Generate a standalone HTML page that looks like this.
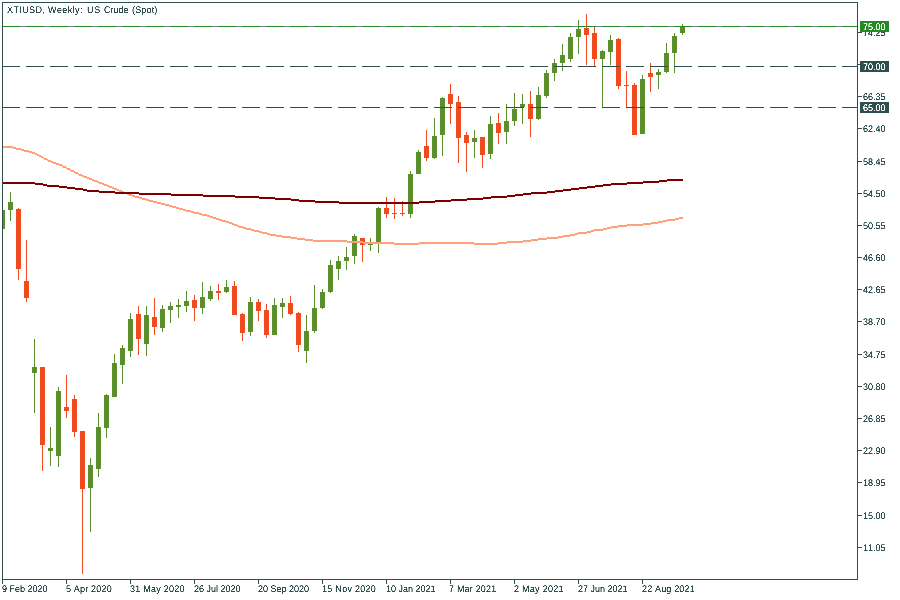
<!DOCTYPE html><html lang="en"><head><meta charset="utf-8"><title>XTIUSD, Weekly: US Crude (Spot)</title>
<style>
html,body{margin:0;padding:0;background:#fff;}
body{width:900px;height:600px;overflow:hidden;position:relative;font-family:"Liberation Sans",sans-serif;font-size:9px;color:#2f4f4f;font-kerning:none;}
svg{position:absolute;left:0;top:0;display:block;}
.t{position:absolute;white-space:pre;line-height:12px;height:14px;font-size:9px;filter:url(#crisp);}
.t span{display:inline-block;transform:matrix(1,0.0005,0,1.07,0,0);transform-origin:0 9px;}
#title{left:6px;top:4px;width:160px;}
#title span{position:absolute;top:0;}
.b{position:absolute;left:860px;width:29px;height:11px;}
.w{color:#fff;}
</style></head><body>
<svg width="900" height="600" viewBox="0 0 900 600" shape-rendering="crispEdges">
<defs><filter id="crisp" x="0" y="0" width="100%" height="100%" color-interpolation-filters="sRGB"><feComponentTransfer><feFuncA type="linear" slope="3" intercept="-0.7"/></feComponentTransfer></filter></defs>
<rect x="3" y="210" width="2" height="19" fill="#5a8f2c"/>
<rect x="10" y="192" width="1" height="29" fill="#5a8f2c"/>
<rect x="8" y="202" width="5" height="8" fill="#5a8f2c"/>
<rect x="18" y="208" width="1" height="72" fill="#f04a1f"/>
<rect x="16" y="209" width="5" height="60" fill="#f04a1f"/>
<rect x="26" y="240" width="1" height="62" fill="#f04a1f"/>
<rect x="24" y="281" width="5" height="17" fill="#f04a1f"/>
<rect x="34" y="339" width="1" height="74" fill="#5a8f2c"/>
<rect x="32" y="367" width="5" height="6" fill="#5a8f2c"/>
<rect x="42" y="367" width="1" height="104" fill="#f04a1f"/>
<rect x="40" y="367" width="5" height="78" fill="#f04a1f"/>
<rect x="50" y="427" width="1" height="39" fill="#5a8f2c"/>
<rect x="48" y="448" width="5" height="3" fill="#5a8f2c"/>
<rect x="58" y="387" width="1" height="80" fill="#5a8f2c"/>
<rect x="56" y="391" width="5" height="65" fill="#5a8f2c"/>
<rect x="66" y="375" width="1" height="43" fill="#f04a1f"/>
<rect x="64" y="407" width="5" height="4" fill="#f04a1f"/>
<rect x="74" y="395" width="1" height="42" fill="#f04a1f"/>
<rect x="72" y="399" width="5" height="33" fill="#f04a1f"/>
<rect x="82" y="431" width="1" height="143" fill="#f04a1f"/>
<rect x="80" y="431" width="5" height="58" fill="#f04a1f"/>
<rect x="90" y="458" width="1" height="74" fill="#5a8f2c"/>
<rect x="88" y="465" width="5" height="23" fill="#5a8f2c"/>
<rect x="98" y="413" width="1" height="64" fill="#5a8f2c"/>
<rect x="96" y="427" width="5" height="42" fill="#5a8f2c"/>
<rect x="106" y="394" width="1" height="44" fill="#5a8f2c"/>
<rect x="104" y="395" width="5" height="33" fill="#5a8f2c"/>
<rect x="114" y="354" width="1" height="43" fill="#5a8f2c"/>
<rect x="112" y="363" width="5" height="34" fill="#5a8f2c"/>
<rect x="122" y="345" width="1" height="39" fill="#5a8f2c"/>
<rect x="120" y="348" width="5" height="17" fill="#5a8f2c"/>
<rect x="130" y="313" width="1" height="44" fill="#5a8f2c"/>
<rect x="128" y="319" width="5" height="32" fill="#5a8f2c"/>
<rect x="138" y="306" width="1" height="49" fill="#f04a1f"/>
<rect x="136" y="314" width="5" height="25" fill="#f04a1f"/>
<rect x="146" y="306" width="1" height="50" fill="#5a8f2c"/>
<rect x="144" y="315" width="5" height="29" fill="#5a8f2c"/>
<rect x="154" y="298" width="1" height="37" fill="#f04a1f"/>
<rect x="152" y="317" width="5" height="10" fill="#f04a1f"/>
<rect x="162" y="305" width="1" height="27" fill="#5a8f2c"/>
<rect x="160" y="309" width="5" height="19" fill="#5a8f2c"/>
<rect x="170" y="302" width="1" height="21" fill="#5a8f2c"/>
<rect x="168" y="306" width="5" height="4" fill="#5a8f2c"/>
<rect x="178" y="299" width="1" height="19" fill="#5a8f2c"/>
<rect x="176" y="305" width="5" height="2" fill="#5a8f2c"/>
<rect x="186" y="291" width="1" height="21" fill="#5a8f2c"/>
<rect x="184" y="301" width="5" height="5" fill="#5a8f2c"/>
<rect x="194" y="295" width="1" height="26" fill="#f04a1f"/>
<rect x="192" y="300" width="5" height="8" fill="#f04a1f"/>
<rect x="202" y="282" width="1" height="32" fill="#5a8f2c"/>
<rect x="200" y="297" width="5" height="11" fill="#5a8f2c"/>
<rect x="210" y="286" width="1" height="15" fill="#5a8f2c"/>
<rect x="208" y="291" width="5" height="8" fill="#5a8f2c"/>
<rect x="218" y="284" width="1" height="16" fill="#f04a1f"/>
<rect x="216" y="291" width="5" height="2" fill="#f04a1f"/>
<rect x="226" y="280" width="1" height="13" fill="#5a8f2c"/>
<rect x="224" y="287" width="5" height="5" fill="#5a8f2c"/>
<rect x="234" y="281" width="1" height="34" fill="#f04a1f"/>
<rect x="232" y="286" width="5" height="29" fill="#f04a1f"/>
<rect x="242" y="313" width="1" height="28" fill="#f04a1f"/>
<rect x="240" y="314" width="5" height="19" fill="#f04a1f"/>
<rect x="250" y="297" width="1" height="39" fill="#5a8f2c"/>
<rect x="248" y="302" width="5" height="30" fill="#5a8f2c"/>
<rect x="258" y="299" width="1" height="22" fill="#f04a1f"/>
<rect x="256" y="302" width="5" height="9" fill="#f04a1f"/>
<rect x="266" y="304" width="1" height="34" fill="#f04a1f"/>
<rect x="264" y="310" width="5" height="25" fill="#f04a1f"/>
<rect x="274" y="298" width="1" height="37" fill="#5a8f2c"/>
<rect x="272" y="305" width="5" height="30" fill="#5a8f2c"/>
<rect x="282" y="298" width="1" height="20" fill="#5a8f2c"/>
<rect x="280" y="303" width="5" height="4" fill="#5a8f2c"/>
<rect x="290" y="296" width="1" height="19" fill="#f04a1f"/>
<rect x="288" y="303" width="5" height="11" fill="#f04a1f"/>
<rect x="298" y="312" width="1" height="40" fill="#f04a1f"/>
<rect x="296" y="313" width="5" height="32" fill="#f04a1f"/>
<rect x="306" y="315" width="1" height="48" fill="#5a8f2c"/>
<rect x="304" y="331" width="5" height="20" fill="#5a8f2c"/>
<rect x="314" y="285" width="1" height="48" fill="#5a8f2c"/>
<rect x="312" y="308" width="5" height="23" fill="#5a8f2c"/>
<rect x="322" y="289" width="1" height="20" fill="#5a8f2c"/>
<rect x="320" y="292" width="5" height="16" fill="#5a8f2c"/>
<rect x="330" y="260" width="1" height="33" fill="#5a8f2c"/>
<rect x="328" y="265" width="5" height="27" fill="#5a8f2c"/>
<rect x="338" y="256" width="1" height="24" fill="#5a8f2c"/>
<rect x="336" y="261" width="5" height="8" fill="#5a8f2c"/>
<rect x="346" y="247" width="1" height="23" fill="#5a8f2c"/>
<rect x="344" y="257" width="5" height="4" fill="#5a8f2c"/>
<rect x="354" y="234" width="1" height="30" fill="#5a8f2c"/>
<rect x="352" y="236" width="5" height="20" fill="#5a8f2c"/>
<rect x="362" y="238" width="1" height="24" fill="#f04a1f"/>
<rect x="360" y="238" width="5" height="7" fill="#f04a1f"/>
<rect x="370" y="238" width="1" height="13" fill="#5a8f2c"/>
<rect x="368" y="244" width="5" height="1" fill="#5a8f2c"/>
<rect x="378" y="207" width="1" height="46" fill="#5a8f2c"/>
<rect x="376" y="208" width="5" height="34" fill="#5a8f2c"/>
<rect x="386" y="197" width="1" height="21" fill="#f04a1f"/>
<rect x="384" y="208" width="5" height="6" fill="#f04a1f"/>
<rect x="394" y="198" width="1" height="21" fill="#f04a1f"/>
<rect x="392" y="213" width="5" height="1" fill="#f04a1f"/>
<rect x="402" y="201" width="1" height="15" fill="#f04a1f"/>
<rect x="400" y="213" width="5" height="1" fill="#f04a1f"/>
<rect x="410" y="171" width="1" height="47" fill="#5a8f2c"/>
<rect x="408" y="174" width="5" height="40" fill="#5a8f2c"/>
<rect x="418" y="150" width="1" height="24" fill="#5a8f2c"/>
<rect x="416" y="152" width="5" height="22" fill="#5a8f2c"/>
<rect x="426" y="130" width="1" height="31" fill="#f04a1f"/>
<rect x="424" y="146" width="5" height="12" fill="#f04a1f"/>
<rect x="434" y="118" width="1" height="41" fill="#5a8f2c"/>
<rect x="432" y="136" width="5" height="22" fill="#5a8f2c"/>
<rect x="442" y="97" width="1" height="59" fill="#5a8f2c"/>
<rect x="440" y="98" width="5" height="37" fill="#5a8f2c"/>
<rect x="450" y="84" width="1" height="40" fill="#f04a1f"/>
<rect x="448" y="94" width="5" height="10" fill="#f04a1f"/>
<rect x="458" y="96" width="1" height="67" fill="#f04a1f"/>
<rect x="456" y="102" width="5" height="36" fill="#f04a1f"/>
<rect x="466" y="132" width="1" height="40" fill="#f04a1f"/>
<rect x="464" y="135" width="5" height="8" fill="#f04a1f"/>
<rect x="474" y="130" width="1" height="28" fill="#5a8f2c"/>
<rect x="472" y="138" width="5" height="4" fill="#5a8f2c"/>
<rect x="482" y="137" width="1" height="31" fill="#f04a1f"/>
<rect x="480" y="137" width="5" height="18" fill="#f04a1f"/>
<rect x="490" y="116" width="1" height="43" fill="#5a8f2c"/>
<rect x="488" y="124" width="5" height="30" fill="#5a8f2c"/>
<rect x="498" y="113" width="1" height="31" fill="#f04a1f"/>
<rect x="496" y="123" width="5" height="10" fill="#f04a1f"/>
<rect x="506" y="104" width="1" height="40" fill="#5a8f2c"/>
<rect x="504" y="121" width="5" height="11" fill="#5a8f2c"/>
<rect x="514" y="93" width="1" height="33" fill="#5a8f2c"/>
<rect x="512" y="109" width="5" height="12" fill="#5a8f2c"/>
<rect x="522" y="94" width="1" height="30" fill="#5a8f2c"/>
<rect x="520" y="104" width="5" height="3" fill="#5a8f2c"/>
<rect x="530" y="91" width="1" height="46" fill="#f04a1f"/>
<rect x="528" y="104" width="5" height="15" fill="#f04a1f"/>
<rect x="538" y="87" width="1" height="33" fill="#5a8f2c"/>
<rect x="536" y="95" width="5" height="24" fill="#5a8f2c"/>
<rect x="546" y="70" width="1" height="28" fill="#5a8f2c"/>
<rect x="544" y="73" width="5" height="23" fill="#5a8f2c"/>
<rect x="554" y="59" width="1" height="22" fill="#5a8f2c"/>
<rect x="552" y="63" width="5" height="10" fill="#5a8f2c"/>
<rect x="562" y="44" width="1" height="27" fill="#5a8f2c"/>
<rect x="560" y="55" width="5" height="8" fill="#5a8f2c"/>
<rect x="570" y="33" width="1" height="29" fill="#5a8f2c"/>
<rect x="568" y="37" width="5" height="22" fill="#5a8f2c"/>
<rect x="578" y="20" width="1" height="34" fill="#5a8f2c"/>
<rect x="576" y="29" width="5" height="8" fill="#5a8f2c"/>
<rect x="586" y="14" width="1" height="51" fill="#f04a1f"/>
<rect x="584" y="28" width="5" height="7" fill="#f04a1f"/>
<rect x="594" y="27" width="1" height="39" fill="#f04a1f"/>
<rect x="592" y="33" width="5" height="26" fill="#f04a1f"/>
<rect x="602" y="50" width="1" height="58" fill="#5a8f2c"/>
<rect x="600" y="51" width="5" height="8" fill="#5a8f2c"/>
<rect x="610" y="35" width="1" height="30" fill="#5a8f2c"/>
<rect x="608" y="40" width="5" height="12" fill="#5a8f2c"/>
<rect x="618" y="38" width="1" height="51" fill="#f04a1f"/>
<rect x="616" y="39" width="5" height="47" fill="#f04a1f"/>
<rect x="626" y="71" width="1" height="37" fill="#f04a1f"/>
<rect x="624" y="85" width="5" height="1" fill="#f04a1f"/>
<rect x="634" y="83" width="1" height="52" fill="#f04a1f"/>
<rect x="632" y="85" width="5" height="50" fill="#f04a1f"/>
<rect x="642" y="75" width="1" height="59" fill="#5a8f2c"/>
<rect x="640" y="79" width="5" height="55" fill="#5a8f2c"/>
<rect x="650" y="63" width="1" height="29" fill="#f04a1f"/>
<rect x="648" y="73" width="5" height="4" fill="#f04a1f"/>
<rect x="658" y="69" width="1" height="20" fill="#5a8f2c"/>
<rect x="656" y="72" width="5" height="3" fill="#5a8f2c"/>
<rect x="666" y="43" width="1" height="30" fill="#5a8f2c"/>
<rect x="664" y="53" width="5" height="19" fill="#5a8f2c"/>
<rect x="674" y="33" width="1" height="40" fill="#5a8f2c"/>
<rect x="672" y="36" width="5" height="17" fill="#5a8f2c"/>
<rect x="682" y="24" width="1" height="11" fill="#5a8f2c"/>
<rect x="680" y="26" width="5" height="7" fill="#5a8f2c"/>
<rect x="3" y="146" width="10" height="2" fill="#ffa07a"/>
<rect x="13" y="147" width="3" height="2" fill="#ffa07a"/>
<rect x="16" y="148" width="5" height="2" fill="#ffa07a"/>
<rect x="21" y="149" width="3" height="2" fill="#ffa07a"/>
<rect x="24" y="150" width="5" height="2" fill="#ffa07a"/>
<rect x="29" y="151" width="3" height="2" fill="#ffa07a"/>
<rect x="32" y="152" width="3" height="2" fill="#ffa07a"/>
<rect x="35" y="153" width="2" height="2" fill="#ffa07a"/>
<rect x="37" y="154" width="2" height="2" fill="#ffa07a"/>
<rect x="39" y="155" width="2" height="2" fill="#ffa07a"/>
<rect x="41" y="156" width="2" height="2" fill="#ffa07a"/>
<rect x="43" y="157" width="1" height="2" fill="#ffa07a"/>
<rect x="44" y="158" width="3" height="2" fill="#ffa07a"/>
<rect x="47" y="159" width="1" height="2" fill="#ffa07a"/>
<rect x="48" y="160" width="3" height="2" fill="#ffa07a"/>
<rect x="51" y="161" width="2" height="2" fill="#ffa07a"/>
<rect x="53" y="162" width="3" height="2" fill="#ffa07a"/>
<rect x="56" y="163" width="3" height="2" fill="#ffa07a"/>
<rect x="59" y="164" width="3" height="2" fill="#ffa07a"/>
<rect x="62" y="165" width="1" height="2" fill="#ffa07a"/>
<rect x="63" y="166" width="3" height="2" fill="#ffa07a"/>
<rect x="66" y="167" width="1" height="2" fill="#ffa07a"/>
<rect x="67" y="168" width="3" height="2" fill="#ffa07a"/>
<rect x="70" y="169" width="1" height="2" fill="#ffa07a"/>
<rect x="71" y="170" width="3" height="2" fill="#ffa07a"/>
<rect x="74" y="171" width="1" height="2" fill="#ffa07a"/>
<rect x="75" y="172" width="3" height="2" fill="#ffa07a"/>
<rect x="78" y="173" width="1" height="2" fill="#ffa07a"/>
<rect x="79" y="174" width="3" height="2" fill="#ffa07a"/>
<rect x="82" y="175" width="2" height="2" fill="#ffa07a"/>
<rect x="84" y="176" width="3" height="2" fill="#ffa07a"/>
<rect x="87" y="177" width="2" height="2" fill="#ffa07a"/>
<rect x="89" y="178" width="3" height="2" fill="#ffa07a"/>
<rect x="92" y="179" width="2" height="2" fill="#ffa07a"/>
<rect x="94" y="180" width="3" height="2" fill="#ffa07a"/>
<rect x="97" y="181" width="2" height="2" fill="#ffa07a"/>
<rect x="99" y="182" width="3" height="2" fill="#ffa07a"/>
<rect x="102" y="183" width="2" height="2" fill="#ffa07a"/>
<rect x="104" y="184" width="3" height="2" fill="#ffa07a"/>
<rect x="107" y="185" width="2" height="2" fill="#ffa07a"/>
<rect x="109" y="186" width="3" height="2" fill="#ffa07a"/>
<rect x="112" y="187" width="2" height="2" fill="#ffa07a"/>
<rect x="114" y="188" width="3" height="2" fill="#ffa07a"/>
<rect x="117" y="189" width="2" height="2" fill="#ffa07a"/>
<rect x="119" y="190" width="3" height="2" fill="#ffa07a"/>
<rect x="122" y="191" width="2" height="2" fill="#ffa07a"/>
<rect x="124" y="192" width="3" height="2" fill="#ffa07a"/>
<rect x="127" y="193" width="2" height="2" fill="#ffa07a"/>
<rect x="129" y="194" width="3" height="2" fill="#ffa07a"/>
<rect x="132" y="195" width="3" height="2" fill="#ffa07a"/>
<rect x="135" y="196" width="4" height="2" fill="#ffa07a"/>
<rect x="139" y="197" width="3" height="2" fill="#ffa07a"/>
<rect x="142" y="198" width="4" height="2" fill="#ffa07a"/>
<rect x="146" y="199" width="3" height="2" fill="#ffa07a"/>
<rect x="149" y="200" width="4" height="2" fill="#ffa07a"/>
<rect x="153" y="201" width="4" height="2" fill="#ffa07a"/>
<rect x="157" y="202" width="4" height="2" fill="#ffa07a"/>
<rect x="161" y="203" width="4" height="2" fill="#ffa07a"/>
<rect x="165" y="204" width="4" height="2" fill="#ffa07a"/>
<rect x="169" y="205" width="3" height="2" fill="#ffa07a"/>
<rect x="172" y="206" width="4" height="2" fill="#ffa07a"/>
<rect x="176" y="207" width="3" height="2" fill="#ffa07a"/>
<rect x="179" y="208" width="4" height="2" fill="#ffa07a"/>
<rect x="183" y="209" width="3" height="2" fill="#ffa07a"/>
<rect x="186" y="210" width="5" height="2" fill="#ffa07a"/>
<rect x="191" y="211" width="3" height="2" fill="#ffa07a"/>
<rect x="194" y="212" width="5" height="2" fill="#ffa07a"/>
<rect x="199" y="213" width="3" height="2" fill="#ffa07a"/>
<rect x="202" y="214" width="5" height="2" fill="#ffa07a"/>
<rect x="207" y="215" width="3" height="2" fill="#ffa07a"/>
<rect x="210" y="216" width="3" height="2" fill="#ffa07a"/>
<rect x="213" y="217" width="3" height="2" fill="#ffa07a"/>
<rect x="216" y="218" width="3" height="2" fill="#ffa07a"/>
<rect x="219" y="219" width="3" height="2" fill="#ffa07a"/>
<rect x="222" y="220" width="4" height="2" fill="#ffa07a"/>
<rect x="226" y="221" width="3" height="2" fill="#ffa07a"/>
<rect x="229" y="222" width="3" height="2" fill="#ffa07a"/>
<rect x="232" y="223" width="2" height="2" fill="#ffa07a"/>
<rect x="234" y="224" width="3" height="2" fill="#ffa07a"/>
<rect x="237" y="225" width="2" height="2" fill="#ffa07a"/>
<rect x="239" y="226" width="4" height="2" fill="#ffa07a"/>
<rect x="243" y="227" width="3" height="2" fill="#ffa07a"/>
<rect x="246" y="228" width="5" height="2" fill="#ffa07a"/>
<rect x="251" y="229" width="3" height="2" fill="#ffa07a"/>
<rect x="254" y="230" width="5" height="2" fill="#ffa07a"/>
<rect x="259" y="231" width="3" height="2" fill="#ffa07a"/>
<rect x="262" y="232" width="5" height="2" fill="#ffa07a"/>
<rect x="267" y="233" width="3" height="2" fill="#ffa07a"/>
<rect x="270" y="234" width="6" height="2" fill="#ffa07a"/>
<rect x="276" y="235" width="6" height="2" fill="#ffa07a"/>
<rect x="282" y="236" width="9" height="2" fill="#ffa07a"/>
<rect x="291" y="237" width="6" height="2" fill="#ffa07a"/>
<rect x="297" y="238" width="8" height="2" fill="#ffa07a"/>
<rect x="305" y="239" width="8" height="2" fill="#ffa07a"/>
<rect x="313" y="240" width="34" height="2" fill="#ffa07a"/>
<rect x="347" y="241" width="16" height="2" fill="#ffa07a"/>
<rect x="363" y="242" width="31" height="2" fill="#ffa07a"/>
<rect x="394" y="243" width="25" height="2" fill="#ffa07a"/>
<rect x="419" y="242" width="55" height="2" fill="#ffa07a"/>
<rect x="474" y="243" width="24" height="2" fill="#ffa07a"/>
<rect x="498" y="242" width="9" height="2" fill="#ffa07a"/>
<rect x="507" y="241" width="16" height="2" fill="#ffa07a"/>
<rect x="523" y="240" width="8" height="2" fill="#ffa07a"/>
<rect x="531" y="239" width="7" height="2" fill="#ffa07a"/>
<rect x="538" y="238" width="9" height="2" fill="#ffa07a"/>
<rect x="547" y="237" width="11" height="2" fill="#ffa07a"/>
<rect x="558" y="236" width="5" height="2" fill="#ffa07a"/>
<rect x="563" y="235" width="7" height="2" fill="#ffa07a"/>
<rect x="570" y="234" width="5" height="2" fill="#ffa07a"/>
<rect x="575" y="233" width="3" height="2" fill="#ffa07a"/>
<rect x="578" y="232" width="9" height="2" fill="#ffa07a"/>
<rect x="587" y="231" width="4" height="2" fill="#ffa07a"/>
<rect x="591" y="230" width="3" height="2" fill="#ffa07a"/>
<rect x="594" y="229" width="9" height="2" fill="#ffa07a"/>
<rect x="603" y="228" width="4" height="2" fill="#ffa07a"/>
<rect x="607" y="227" width="4" height="2" fill="#ffa07a"/>
<rect x="611" y="226" width="7" height="2" fill="#ffa07a"/>
<rect x="618" y="225" width="9" height="2" fill="#ffa07a"/>
<rect x="627" y="224" width="16" height="2" fill="#ffa07a"/>
<rect x="643" y="223" width="8" height="2" fill="#ffa07a"/>
<rect x="651" y="222" width="7" height="2" fill="#ffa07a"/>
<rect x="658" y="221" width="5" height="2" fill="#ffa07a"/>
<rect x="663" y="220" width="4" height="2" fill="#ffa07a"/>
<rect x="667" y="219" width="8" height="2" fill="#ffa07a"/>
<rect x="675" y="218" width="4" height="2" fill="#ffa07a"/>
<rect x="679" y="217" width="4" height="2" fill="#ffa07a"/>
<rect x="3" y="182" width="32" height="2" fill="#7b0000"/>
<rect x="35" y="183" width="8" height="2" fill="#7b0000"/>
<rect x="43" y="184" width="4" height="2" fill="#7b0000"/>
<rect x="47" y="185" width="12" height="2" fill="#7b0000"/>
<rect x="59" y="186" width="8" height="2" fill="#7b0000"/>
<rect x="67" y="187" width="8" height="2" fill="#7b0000"/>
<rect x="75" y="188" width="8" height="2" fill="#7b0000"/>
<rect x="83" y="189" width="4" height="2" fill="#7b0000"/>
<rect x="87" y="190" width="12" height="2" fill="#7b0000"/>
<rect x="99" y="191" width="16" height="2" fill="#7b0000"/>
<rect x="115" y="192" width="24" height="2" fill="#7b0000"/>
<rect x="139" y="193" width="32" height="2" fill="#7b0000"/>
<rect x="171" y="194" width="32" height="2" fill="#7b0000"/>
<rect x="203" y="195" width="32" height="2" fill="#7b0000"/>
<rect x="235" y="196" width="24" height="2" fill="#7b0000"/>
<rect x="259" y="197" width="16" height="2" fill="#7b0000"/>
<rect x="275" y="198" width="16" height="2" fill="#7b0000"/>
<rect x="291" y="199" width="8" height="2" fill="#7b0000"/>
<rect x="299" y="200" width="16" height="2" fill="#7b0000"/>
<rect x="315" y="201" width="24" height="2" fill="#7b0000"/>
<rect x="339" y="202" width="80" height="2" fill="#7b0000"/>
<rect x="419" y="201" width="16" height="2" fill="#7b0000"/>
<rect x="435" y="200" width="16" height="2" fill="#7b0000"/>
<rect x="451" y="199" width="16" height="2" fill="#7b0000"/>
<rect x="467" y="198" width="16" height="2" fill="#7b0000"/>
<rect x="483" y="197" width="8" height="2" fill="#7b0000"/>
<rect x="491" y="196" width="16" height="2" fill="#7b0000"/>
<rect x="507" y="195" width="8" height="2" fill="#7b0000"/>
<rect x="515" y="194" width="8" height="2" fill="#7b0000"/>
<rect x="523" y="193" width="8" height="2" fill="#7b0000"/>
<rect x="531" y="192" width="16" height="2" fill="#7b0000"/>
<rect x="547" y="191" width="8" height="2" fill="#7b0000"/>
<rect x="555" y="190" width="8" height="2" fill="#7b0000"/>
<rect x="563" y="189" width="8" height="2" fill="#7b0000"/>
<rect x="571" y="188" width="8" height="2" fill="#7b0000"/>
<rect x="579" y="187" width="8" height="2" fill="#7b0000"/>
<rect x="587" y="186" width="8" height="2" fill="#7b0000"/>
<rect x="595" y="185" width="8" height="2" fill="#7b0000"/>
<rect x="603" y="184" width="8" height="2" fill="#7b0000"/>
<rect x="611" y="183" width="16" height="2" fill="#7b0000"/>
<rect x="627" y="182" width="16" height="2" fill="#7b0000"/>
<rect x="643" y="181" width="16" height="2" fill="#7b0000"/>
<rect x="659" y="180" width="8" height="2" fill="#7b0000"/>
<rect x="667" y="179" width="16" height="2" fill="#7b0000"/>
<rect x="3" y="26" width="854" height="1" fill="#7b8aa2"/>
<rect x="3" y="26" width="17" height="1" fill="#228b22"/>
<rect x="3" y="66" width="17" height="1" fill="#2f4f4f"/>
<rect x="3" y="107" width="17" height="1" fill="#2f4f4f"/>
<rect x="26" y="26" width="18" height="1" fill="#228b22"/>
<rect x="26" y="66" width="18" height="1" fill="#2f4f4f"/>
<rect x="26" y="107" width="18" height="1" fill="#2f4f4f"/>
<rect x="50" y="26" width="18" height="1" fill="#228b22"/>
<rect x="50" y="66" width="18" height="1" fill="#2f4f4f"/>
<rect x="50" y="107" width="18" height="1" fill="#2f4f4f"/>
<rect x="74" y="26" width="18" height="1" fill="#228b22"/>
<rect x="74" y="66" width="18" height="1" fill="#2f4f4f"/>
<rect x="74" y="107" width="18" height="1" fill="#2f4f4f"/>
<rect x="98" y="26" width="18" height="1" fill="#228b22"/>
<rect x="98" y="66" width="18" height="1" fill="#2f4f4f"/>
<rect x="98" y="107" width="18" height="1" fill="#2f4f4f"/>
<rect x="122" y="26" width="18" height="1" fill="#228b22"/>
<rect x="122" y="66" width="18" height="1" fill="#2f4f4f"/>
<rect x="122" y="107" width="18" height="1" fill="#2f4f4f"/>
<rect x="146" y="26" width="18" height="1" fill="#228b22"/>
<rect x="146" y="66" width="18" height="1" fill="#2f4f4f"/>
<rect x="146" y="107" width="18" height="1" fill="#2f4f4f"/>
<rect x="170" y="26" width="18" height="1" fill="#228b22"/>
<rect x="170" y="66" width="18" height="1" fill="#2f4f4f"/>
<rect x="170" y="107" width="18" height="1" fill="#2f4f4f"/>
<rect x="194" y="26" width="18" height="1" fill="#228b22"/>
<rect x="194" y="66" width="18" height="1" fill="#2f4f4f"/>
<rect x="194" y="107" width="18" height="1" fill="#2f4f4f"/>
<rect x="218" y="26" width="18" height="1" fill="#228b22"/>
<rect x="218" y="66" width="18" height="1" fill="#2f4f4f"/>
<rect x="218" y="107" width="18" height="1" fill="#2f4f4f"/>
<rect x="242" y="26" width="18" height="1" fill="#228b22"/>
<rect x="242" y="66" width="18" height="1" fill="#2f4f4f"/>
<rect x="242" y="107" width="18" height="1" fill="#2f4f4f"/>
<rect x="266" y="26" width="18" height="1" fill="#228b22"/>
<rect x="266" y="66" width="18" height="1" fill="#2f4f4f"/>
<rect x="266" y="107" width="18" height="1" fill="#2f4f4f"/>
<rect x="290" y="26" width="18" height="1" fill="#228b22"/>
<rect x="290" y="66" width="18" height="1" fill="#2f4f4f"/>
<rect x="290" y="107" width="18" height="1" fill="#2f4f4f"/>
<rect x="314" y="26" width="18" height="1" fill="#228b22"/>
<rect x="314" y="66" width="18" height="1" fill="#2f4f4f"/>
<rect x="314" y="107" width="18" height="1" fill="#2f4f4f"/>
<rect x="338" y="26" width="18" height="1" fill="#228b22"/>
<rect x="338" y="66" width="18" height="1" fill="#2f4f4f"/>
<rect x="338" y="107" width="18" height="1" fill="#2f4f4f"/>
<rect x="362" y="26" width="18" height="1" fill="#228b22"/>
<rect x="362" y="66" width="18" height="1" fill="#2f4f4f"/>
<rect x="362" y="107" width="18" height="1" fill="#2f4f4f"/>
<rect x="386" y="26" width="18" height="1" fill="#228b22"/>
<rect x="386" y="66" width="18" height="1" fill="#2f4f4f"/>
<rect x="386" y="107" width="18" height="1" fill="#2f4f4f"/>
<rect x="410" y="26" width="18" height="1" fill="#228b22"/>
<rect x="410" y="66" width="18" height="1" fill="#2f4f4f"/>
<rect x="410" y="107" width="18" height="1" fill="#2f4f4f"/>
<rect x="434" y="26" width="18" height="1" fill="#228b22"/>
<rect x="434" y="66" width="18" height="1" fill="#2f4f4f"/>
<rect x="434" y="107" width="18" height="1" fill="#2f4f4f"/>
<rect x="458" y="26" width="18" height="1" fill="#228b22"/>
<rect x="458" y="66" width="18" height="1" fill="#2f4f4f"/>
<rect x="458" y="107" width="18" height="1" fill="#2f4f4f"/>
<rect x="482" y="26" width="18" height="1" fill="#228b22"/>
<rect x="482" y="66" width="18" height="1" fill="#2f4f4f"/>
<rect x="482" y="107" width="18" height="1" fill="#2f4f4f"/>
<rect x="506" y="26" width="18" height="1" fill="#228b22"/>
<rect x="506" y="66" width="18" height="1" fill="#2f4f4f"/>
<rect x="506" y="107" width="18" height="1" fill="#2f4f4f"/>
<rect x="530" y="26" width="18" height="1" fill="#228b22"/>
<rect x="530" y="66" width="18" height="1" fill="#2f4f4f"/>
<rect x="530" y="107" width="18" height="1" fill="#2f4f4f"/>
<rect x="554" y="26" width="18" height="1" fill="#228b22"/>
<rect x="554" y="66" width="18" height="1" fill="#2f4f4f"/>
<rect x="554" y="107" width="18" height="1" fill="#2f4f4f"/>
<rect x="578" y="26" width="18" height="1" fill="#228b22"/>
<rect x="578" y="66" width="18" height="1" fill="#2f4f4f"/>
<rect x="578" y="107" width="18" height="1" fill="#2f4f4f"/>
<rect x="602" y="26" width="18" height="1" fill="#228b22"/>
<rect x="602" y="66" width="18" height="1" fill="#2f4f4f"/>
<rect x="602" y="107" width="18" height="1" fill="#2f4f4f"/>
<rect x="626" y="26" width="18" height="1" fill="#228b22"/>
<rect x="626" y="66" width="18" height="1" fill="#2f4f4f"/>
<rect x="626" y="107" width="18" height="1" fill="#2f4f4f"/>
<rect x="650" y="26" width="18" height="1" fill="#228b22"/>
<rect x="650" y="66" width="18" height="1" fill="#2f4f4f"/>
<rect x="650" y="107" width="18" height="1" fill="#2f4f4f"/>
<rect x="674" y="26" width="18" height="1" fill="#228b22"/>
<rect x="674" y="66" width="18" height="1" fill="#2f4f4f"/>
<rect x="674" y="107" width="18" height="1" fill="#2f4f4f"/>
<rect x="698" y="26" width="18" height="1" fill="#228b22"/>
<rect x="698" y="66" width="18" height="1" fill="#2f4f4f"/>
<rect x="698" y="107" width="18" height="1" fill="#2f4f4f"/>
<rect x="722" y="26" width="18" height="1" fill="#228b22"/>
<rect x="722" y="66" width="18" height="1" fill="#2f4f4f"/>
<rect x="722" y="107" width="18" height="1" fill="#2f4f4f"/>
<rect x="746" y="26" width="18" height="1" fill="#228b22"/>
<rect x="746" y="66" width="18" height="1" fill="#2f4f4f"/>
<rect x="746" y="107" width="18" height="1" fill="#2f4f4f"/>
<rect x="770" y="26" width="18" height="1" fill="#228b22"/>
<rect x="770" y="66" width="18" height="1" fill="#2f4f4f"/>
<rect x="770" y="107" width="18" height="1" fill="#2f4f4f"/>
<rect x="794" y="26" width="18" height="1" fill="#228b22"/>
<rect x="794" y="66" width="18" height="1" fill="#2f4f4f"/>
<rect x="794" y="107" width="18" height="1" fill="#2f4f4f"/>
<rect x="818" y="26" width="18" height="1" fill="#228b22"/>
<rect x="818" y="66" width="18" height="1" fill="#2f4f4f"/>
<rect x="818" y="107" width="18" height="1" fill="#2f4f4f"/>
<rect x="842" y="26" width="15" height="1" fill="#228b22"/>
<rect x="842" y="66" width="15" height="1" fill="#2f4f4f"/>
<rect x="842" y="107" width="15" height="1" fill="#2f4f4f"/>
<rect x="2" y="2" width="856" height="1" fill="#2f4f4f"/>
<rect x="2" y="2" width="1" height="582" fill="#2f4f4f"/>
<rect x="857" y="2" width="1" height="578" fill="#2f4f4f"/>
<rect x="2" y="579" width="856" height="1" fill="#2f4f4f"/>
<rect x="2" y="579" width="1" height="5" fill="#2f4f4f"/>
<rect x="66" y="579" width="1" height="5" fill="#2f4f4f"/>
<rect x="130" y="579" width="1" height="5" fill="#2f4f4f"/>
<rect x="194" y="579" width="1" height="5" fill="#2f4f4f"/>
<rect x="258" y="579" width="1" height="5" fill="#2f4f4f"/>
<rect x="322" y="579" width="1" height="5" fill="#2f4f4f"/>
<rect x="386" y="579" width="1" height="5" fill="#2f4f4f"/>
<rect x="450" y="579" width="1" height="5" fill="#2f4f4f"/>
<rect x="514" y="579" width="1" height="5" fill="#2f4f4f"/>
<rect x="578" y="579" width="1" height="5" fill="#2f4f4f"/>
<rect x="642" y="579" width="1" height="5" fill="#2f4f4f"/>
<rect x="858" y="32" width="4" height="1" fill="#2f4f4f"/>
<rect x="858" y="64" width="4" height="1" fill="#2f4f4f"/>
<rect x="858" y="96" width="4" height="1" fill="#2f4f4f"/>
<rect x="858" y="128" width="4" height="1" fill="#2f4f4f"/>
<rect x="858" y="161" width="4" height="1" fill="#2f4f4f"/>
<rect x="858" y="193" width="4" height="1" fill="#2f4f4f"/>
<rect x="858" y="225" width="4" height="1" fill="#2f4f4f"/>
<rect x="858" y="257" width="4" height="1" fill="#2f4f4f"/>
<rect x="858" y="289" width="4" height="1" fill="#2f4f4f"/>
<rect x="858" y="321" width="4" height="1" fill="#2f4f4f"/>
<rect x="858" y="354" width="4" height="1" fill="#2f4f4f"/>
<rect x="858" y="386" width="4" height="1" fill="#2f4f4f"/>
<rect x="858" y="418" width="4" height="1" fill="#2f4f4f"/>
<rect x="858" y="450" width="4" height="1" fill="#2f4f4f"/>
<rect x="858" y="482" width="4" height="1" fill="#2f4f4f"/>
<rect x="858" y="515" width="4" height="1" fill="#2f4f4f"/>
<rect x="858" y="547" width="4" height="1" fill="#2f4f4f"/>
</svg>
<div id="title" class="t"><span style="left:1px;letter-spacing:0.40px">XTIUSD,</span> <span style="left:42px;letter-spacing:0.40px">Weekly:</span>  <span style="left:81px;letter-spacing:0.80px">US</span> <span style="left:98px;letter-spacing:0.00px">Crude</span> <span style="left:126px;letter-spacing:0.16px">(Spot)</span></div>
<div class="t" style="left:863px;top:27px"><span>74.25</span></div>
<div class="t" style="left:863px;top:59px"><span>70.30</span></div>
<div class="t" style="left:863px;top:91px"><span>66.35</span></div>
<div class="t" style="left:863px;top:123px"><span>62.40</span></div>
<div class="t" style="left:863px;top:156px"><span>58.45</span></div>
<div class="t" style="left:863px;top:188px"><span>54.50</span></div>
<div class="t" style="left:863px;top:220px"><span>50.55</span></div>
<div class="t" style="left:863px;top:252px"><span>46.60</span></div>
<div class="t" style="left:863px;top:284px"><span>42.65</span></div>
<div class="t" style="left:863px;top:316px"><span>38.70</span></div>
<div class="t" style="left:863px;top:349px"><span>34.75</span></div>
<div class="t" style="left:863px;top:381px"><span>30.80</span></div>
<div class="t" style="left:863px;top:413px"><span>26.85</span></div>
<div class="t" style="left:863px;top:445px"><span>22.90</span></div>
<div class="t" style="left:863px;top:477px"><span>18.95</span></div>
<div class="t" style="left:863px;top:510px"><span>15.00</span></div>
<div class="t" style="left:863px;top:542px"><span>11.05</span></div>
<div class="b" style="top:21px;background:#228b22"></div>
<div class="t w" style="left:863px;top:21px"><span>75.00</span></div>
<div class="b" style="top:61px;background:#2f4f4f"></div>
<div class="t w" style="left:863px;top:61px"><span>70.00</span></div>
<div class="b" style="top:102px;background:#2f4f4f"></div>
<div class="t w" style="left:863px;top:102px"><span>65.00</span></div>
<div class="t" style="left:2px;top:583px"><span>9 Feb 2020</span></div>
<div class="t" style="left:66px;top:583px"><span style="letter-spacing:0.18px">5 Apr 2020</span></div>
<div class="t" style="left:130px;top:583px"><span style="letter-spacing:0.24px">31 May 2020</span></div>
<div class="t" style="left:194px;top:583px"><span>26 Jul 2020</span></div>
<div class="t" style="left:258px;top:583px"><span>20 Sep 2020</span></div>
<div class="t" style="left:321.70px;top:583px"><span style="letter-spacing:0.28px">15 Nov 2020</span></div>
<div class="t" style="left:385.70px;top:583px"><span>10 Jan 2021</span></div>
<div class="t" style="left:448.60px;top:583px"><span style="letter-spacing:0.19px">7 Mar 2021</span></div>
<div class="t" style="left:514px;top:583px"><span style="letter-spacing:0.27px">2 May 2021</span></div>
<div class="t" style="left:578px;top:583px"><span>27 Jun 2021</span></div>
<div class="t" style="left:642px;top:583px"><span style="letter-spacing:0.16px">22 Aug 2021</span></div>
</body></html>
